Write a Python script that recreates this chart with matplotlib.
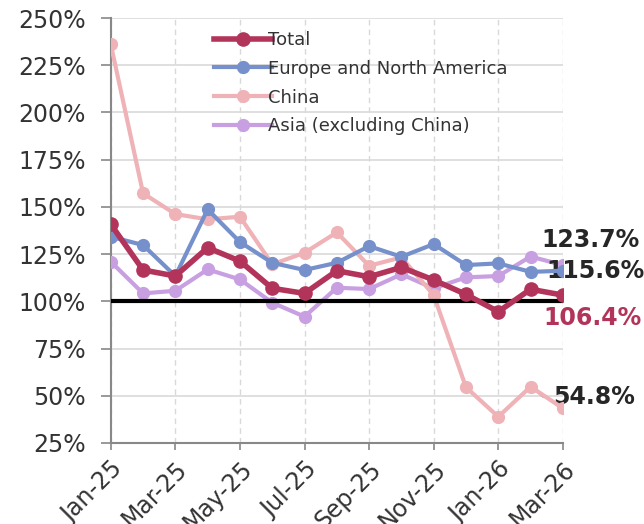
import matplotlib
matplotlib.use("Agg")
import matplotlib.pyplot as plt
import matplotlib.ticker as mticker

# monthly ratios, Jan-25 .. Mar-26 (percent)
months = ["Jan-25", "Feb-25", "Mar-25", "Apr-25", "May-25", "Jun-25", "Jul-25", "Aug-25",
          "Sep-25", "Oct-25", "Nov-25", "Dec-25", "Jan-26", "Feb-26", "Mar-26"]
total = [140.8, 116.6, 113.4, 128.4, 121.3, 106.9, 104.2, 116.2,
         113.0, 118.0, 111.3, 103.7, 94.5, 106.4, 103.3]
europe = [134.2, 129.8, 113.4, 148.7, 131.4, 120.4, 116.6, 120.4,
          129.2, 123.6, 130.3, 119.2, 120.1, 115.6, 116.2]
china = [236.1, 157.2, 146.2, 143.4, 144.8, 119.6, 125.7, 136.5,
         118.8, 123.3, 103.3, 54.5, 38.9, 54.8, 43.4]
asia = [121.0, 104.2, 105.6, 116.9, 111.6, 99.3, 91.9, 107.2,
        106.5, 114.3, 106.9, 112.7, 113.4, 123.7, 119.2]

series_names = ["Total", "Europe and North America", "China", "Asia (excluding China)"]
series_colors = ["#b3345a", "#7590cb", "#efb2b7", "#c8a0e2"]

x = list(range(len(months)))

plt.rcParams["font.family"] = ["DejaVu Sans"]
fig = plt.figure(figsize=(6.44, 5.24), dpi=100)
ax = fig.add_axes([0.172, 0.1546, 0.702, 0.811])

for i, (name, vals, col) in enumerate(zip(series_names, [total, europe, china, asia], series_colors)):
    lw = 4.0 if i == 0 else 3.0
    ms = 9.5 if i == 0 else 8.5
    ax.plot(x, vals, color=col, lw=lw, marker="o", ms=ms, label=name,
            zorder=6 - i if i else 7, solid_joinstyle="round")

# reference line at 100%
ax.plot([x[0], x[-1]], [100, 100], color="black", lw=3, zorder=5.5)

ax.set_xlim(x[0], x[-1])
ax.set_ylim(25, 250)
ax.yaxis.set_major_locator(mticker.MultipleLocator(25))
ax.yaxis.set_major_formatter(mticker.FuncFormatter(lambda v, p: f"{v:.0f}%"))
ax.set_xticks(x[::2])
ax.set_xticklabels(months[::2], rotation=45, ha="right", rotation_mode="anchor")

ax.grid(axis="y", color="#d9d9d9", lw=1.2)
ax.grid(axis="x", color="#d9d9d9", lw=1, ls=(0, (4, 3)))
ax.set_axisbelow(True)
for s in ["top", "right"]:
    ax.spines[s].set_visible(False)
for s in ["left", "bottom"]:
    ax.spines[s].set_color("#888888")
    ax.spines[s].set_linewidth(1.5)
ax.tick_params(axis="y", colors="#888888", labelcolor="#333333", labelsize=17,
               length=7, width=1.2, pad=11)
ax.tick_params(axis="x", colors="#888888", labelcolor="#333333", labelsize=17,
               length=5, width=1.2, pad=5)

leg = ax.legend(loc="upper left", bbox_to_anchor=(0.205, 0.995), frameon=False,
                fontsize=13, handlelength=3.2, handletextpad=-0.25,
                labelspacing=0.6, borderaxespad=0.2)
for t in leg.get_texts():
    t.set_color("#333333")

# end-of-period labels (Feb-26 values)
fb = 13
ax.annotate(f"{asia[fb]:.1f}%", xy=(fb, asia[fb]), xytext=(13.35, 132.4),
            fontsize=17, fontweight="bold", color="#262626", va="center",
            annotation_clip=False)
ax.annotate(f"{europe[fb]:.1f}%", xy=(fb, europe[fb]), xytext=(13.5, 116.2),
            fontsize=17, fontweight="bold", color="#262626", va="center",
            annotation_clip=False)
ax.annotate(f"{total[fb]:.1f}%", xy=(fb, total[fb]), xytext=(13.4, 91.0),
            fontsize=17, fontweight="bold", color="#b3345a", va="center",
            annotation_clip=False)
ax.annotate(f"{china[fb]:.1f}%", xy=(fb, china[fb]), xytext=(13.7, 49.3),
            fontsize=17, fontweight="bold", color="#262626", va="center",
            annotation_clip=False,
            arrowprops=dict(arrowstyle="-", color="#999999", lw=1,
                            connectionstyle="angle,angleA=0,angleB=-40,rad=0",
                            shrinkA=2, shrinkB=2))

fig.savefig("out.png", dpi=100)
